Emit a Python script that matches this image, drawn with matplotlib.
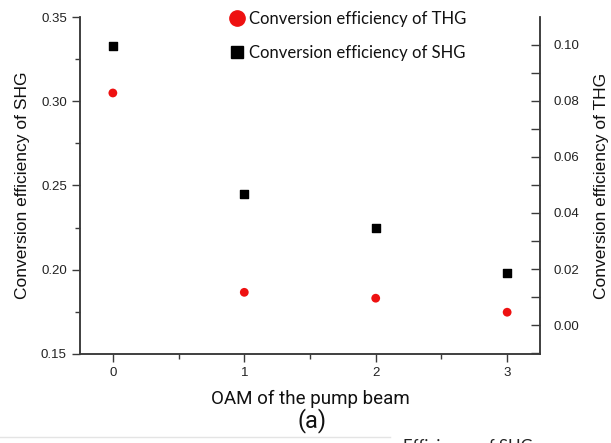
import matplotlib
matplotlib.use("Agg")
import matplotlib.pyplot as plt
from matplotlib.ticker import MultipleLocator, FormatStrFormatter
from matplotlib.lines import Line2D

oam = [0, 1, 2, 3]
shg_eff = [0.3326, 0.245, 0.2246, 0.1979]
thg_eff = [0.0828, 0.0117, 0.0096, 0.0046]

shg_label = "Conversion efficiency of SHG"
thg_label = "Conversion efficiency of THG"
x_label = "OAM of the pump beam"
panel = "(a)"

plt.rcParams['font.family'] = ['Liberation Sans', 'DejaVu Sans']
axc = '#3a3a3a'

fig = plt.figure(figsize=(6.11, 4.43), dpi=100)
ax = fig.add_axes([80/611, 1-354/443, 460/611, 337/443])
ax2 = ax.twinx()

ax.scatter(oam, shg_eff, marker='s', s=36, color='black', zorder=3)
ax2.scatter(oam, thg_eff, marker='o', s=40, color='#ee1111', zorder=3, edgecolors='none')

ax.set_xlim(-0.25, 3.25)
ax.set_ylim(0.15, 0.35)
ax2.set_ylim(-0.0103, 0.1099)

ax.xaxis.set_major_locator(MultipleLocator(1))
ax.xaxis.set_minor_locator(MultipleLocator(0.5))
ax.yaxis.set_major_locator(MultipleLocator(0.05))
ax.yaxis.set_minor_locator(MultipleLocator(0.025))
ax.yaxis.set_major_formatter(FormatStrFormatter('%.2f'))
ax2.yaxis.set_major_locator(MultipleLocator(0.02))
ax2.yaxis.set_minor_locator(MultipleLocator(0.01))
ax2.yaxis.set_major_formatter(FormatStrFormatter('%.2f'))

for a in (ax, ax2):
    a.spines['top'].set_visible(False)
    for s in ('left', 'right', 'bottom'):
        a.spines[s].set_color(axc)
        a.spines[s].set_linewidth(1.1)

ax.tick_params(axis='both', which='major', direction='out', length=6, width=1,
               color=axc, labelcolor='#222222', labelsize=9.5)
ax.tick_params(axis='both', which='minor', direction='out', length=3.5, width=1, color=axc)
ax2.tick_params(axis='y', which='major', direction='in', length=6.5, width=1,
                color=axc, labelcolor='#222222', labelsize=9.5, pad=10)
ax2.tick_params(axis='y', which='minor', direction='in', length=6.5, width=1, color=axc)

ax.set_ylabel(shg_label, fontsize=12.5, color='#111111', labelpad=8)
ax2.set_ylabel(thg_label, fontsize=12.5, color='#111111', labelpad=10)
ax.set_xlabel(x_label, fontsize=13.5, family=['Roboto', 'DejaVu Sans'],
              color='#111111', labelpad=8)

handles = [
    Line2D([], [], marker='o', linestyle='none', color='#ee1111', markersize=11),
    Line2D([], [], marker='s', linestyle='none', color='black', markersize=8.5),
]
leg = ax.legend(handles, [thg_label, shg_label], loc='upper left',
                bbox_to_anchor=(0.305, 1.037), frameon=False,
                prop={'family': ['Lato', 'DejaVu Sans'], 'size': 12},
                handletextpad=0.15, labelspacing=1.05, handlelength=1.2,
                borderaxespad=0)
for t in leg.get_texts():
    t.set_color('#111111')

fig.text(312/611, 1-421/443, panel, fontsize=17, ha='center', va='center',
         color='#111111', family=['Roboto', 'DejaVu Sans'])

fig.add_artist(Line2D([0, 390/611], [1-437/443, 1-437/443], color='#e4e4e4',
                      lw=1, transform=fig.transFigure))
fig.text(403/611, -0.028, "Efficiency of SHG", fontsize=12, ha='left',
         va='bottom', color='#222222', family=['Lato', 'DejaVu Sans'])

fig.savefig("out.png", dpi=100)
